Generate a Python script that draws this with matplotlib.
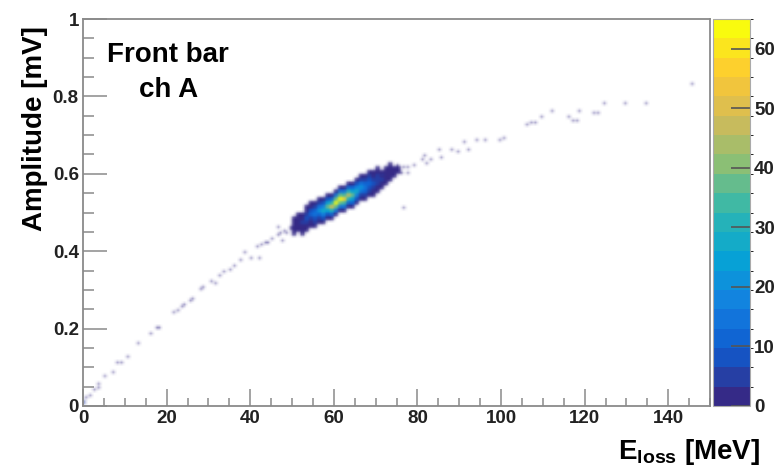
import numpy as np
import matplotlib
matplotlib.use('Agg')
import matplotlib.pyplot as plt
from matplotlib.colors import LinearSegmentedColormap, BoundaryNorm
from matplotlib.cm import ScalarMappable
from matplotlib.ticker import MultipleLocator

# single-count events along the curve (E_loss [MeV], amplitude [mV])
tail_e = [1.7, 2.9, 3.6, 3.6, 5.3, 7.2, 8.4, 9.3, 10.5, 13.2, 16.0, 17.7, 18.4,
          21.5, 22.5, 23.7, 24.4, 25.6, 26.3, 28.0, 28.7, 30.9, 31.6, 32.8, 33.5,
          35.2, 36.4, 37.6, 38.8, 40.4, 42.3, 41.6, 42.8, 43.5, 44.0, 45.2, 46.7,
          46.7, 47.2, 47.6, 48.3, 48.8, 49.5, 49.8, 50.7, 51.4,
          71.5, 74.0, 75.4, 76.3, 76.6, 77.5, 77.5, 79.0, 76.6,
          81.3, 81.8, 82.3, 83.0, 85.2, 85.9, 88.3, 89.5, 91.1, 92.1, 94.3, 96.2,
          99.5, 100.7, 106.2, 107.4, 108.4, 109.8, 112.2, 116.0, 117.0, 118.2,
          118.7, 122.2, 123.4, 124.6, 129.7, 134.7, 145.7]
tail_amp = [0.028, 0.041, 0.049, 0.059, 0.075, 0.088, 0.111, 0.114, 0.127, 0.163, 0.189, 0.200, 0.204,
            0.243, 0.248, 0.256, 0.261, 0.274, 0.279, 0.300, 0.307, 0.320, 0.318, 0.338, 0.346,
            0.351, 0.364, 0.377, 0.398, 0.382, 0.380, 0.411, 0.416, 0.420, 0.424, 0.434, 0.442,
            0.463, 0.445, 0.429, 0.450, 0.448, 0.455, 0.460, 0.463, 0.481,
            0.597, 0.610, 0.623, 0.602, 0.615, 0.602, 0.615, 0.623, 0.514,
            0.636, 0.649, 0.628, 0.638, 0.664, 0.643, 0.661, 0.656, 0.680, 0.664, 0.687, 0.690,
            0.690, 0.695, 0.726, 0.731, 0.734, 0.747, 0.760, 0.749, 0.736, 0.736,
            0.762, 0.757, 0.757, 0.780, 0.783, 0.783, 0.832]

# a few heavier bins at the origin
origin_e = [0.3, 0.3, 0.8]
origin_amp = [0.012, 0.007, 0.022]
origin_n = [6, 4, 2]

# the main blob: one column per 1 MeV, 7 rows of 0.01 mV starting at core_bin0
core_e = list(range(50, 76))
core_bin0 = [43, 44, 44, 45, 46, 46, 47, 47, 48, 48, 49, 50, 50,
             51, 51, 52, 53, 53, 54, 54, 55, 55, 56, 57, 57, 58]
core_counts = [
    [0, 1, 1, 2, 1, 1, 0],
    [0, 1, 2, 3, 2, 1, 0],
    [1, 1, 3, 5, 3, 1, 0],
    [1, 2, 4, 7, 5, 2, 1],
    [1, 3, 6, 10, 7, 3, 1],
    [1, 4, 9, 14, 10, 4, 1],
    [2, 5, 12, 20, 13, 5, 2],
    [2, 7, 17, 28, 18, 7, 2],
    [2, 9, 24, 38, 25, 9, 2],
    [3, 12, 30, 50, 32, 12, 3],
    [3, 13, 36, 62, 38, 13, 3],
    [3, 14, 38, 65, 38, 14, 3],
    [3, 13, 35, 58, 35, 13, 3],
    [3, 12, 30, 48, 30, 12, 3],
    [2, 10, 24, 38, 24, 10, 2],
    [2, 8, 18, 28, 18, 8, 2],
    [2, 6, 13, 20, 13, 6, 2],
    [1, 5, 10, 14, 10, 5, 1],
    [1, 4, 7, 10, 7, 4, 1],
    [1, 3, 5, 8, 5, 3, 1],
    [1, 2, 4, 6, 4, 2, 1],
    [0, 2, 3, 4, 3, 2, 0],
    [0, 1, 2, 3, 2, 1, 0],
    [0, 1, 1, 2, 1, 1, 0],
    [0, 0, 1, 1, 1, 0, 0],
    [0, 0, 1, 1, 0, 0, 0],
]

# ROOT kBird palette
stops = [0.0, 0.125, 0.25, 0.375, 0.5, 0.625, 0.75, 0.875, 1.0]
red = [0.2082, 0.0592, 0.0780, 0.0232, 0.1802, 0.5301, 0.8186, 0.9956, 0.9764]
green = [0.1664, 0.3599, 0.5041, 0.6419, 0.7178, 0.7492, 0.7328, 0.7862, 0.9832]
blue = [0.5293, 0.8111, 0.8805, 0.8363, 0.6891, 0.4662, 0.3473, 0.1968, 0.0539]
bird = LinearSegmentedColormap.from_list(
    'bird', list(zip(stops, zip(red, green, blue))), N=256)
norm = BoundaryNorm(np.linspace(0, 65, 21), bird.N)

# fine binning: 0.5 MeV x 0.005 mV
x_edges = np.linspace(0, 150, 301)
y_edges = np.linspace(0, 1, 201)
H = np.histogram2d(tail_e, tail_amp, bins=[x_edges, y_edges])[0]
H += np.histogram2d(origin_e, origin_amp, bins=[x_edges, y_edges], weights=origin_n)[0]
for i, e in enumerate(core_e):
    for j, c in enumerate(core_counts[i]):
        k = 2 * (core_bin0[i] + j)
        H[2 * e:2 * e + 2, k:k + 2] += c

img = bird(norm(H.T))[:, :, :3]
img[H.T == 0] = 1.0

# soften like the scanned original (small separable kernel, white padding)
kern = np.array([1.0, 3.0, 1.0]) / 5.0
pad = np.pad(img, ((1, 1), (1, 1), (0, 0)), constant_values=1.0)
tmp = kern[0] * pad[:-2] + kern[1] * pad[1:-1] + kern[2] * pad[2:]
img = kern[0] * tmp[:, :-2] + kern[1] * tmp[:, 1:-1] + kern[2] * tmp[:, 2:]

plt.rcParams['font.family'] = ['Liberation Sans', 'DejaVu Sans']
plt.rcParams['mathtext.fontset'] = 'custom'
plt.rcParams['mathtext.bf'] = 'Liberation Sans:bold'
plt.rcParams['mathtext.rm'] = 'Liberation Sans:bold'

fig = plt.figure(figsize=(7.82, 4.76), dpi=100)
ax = fig.add_axes([83 / 782, 70 / 476, 627 / 782, 387 / 476])
ax.imshow(img, origin='lower', extent=[0, 150, 0, 1], aspect='auto',
          interpolation='bilinear')
ax.set_xlim(0, 150)
ax.set_ylim(0, 1)

ax.xaxis.set_major_locator(MultipleLocator(20))
ax.xaxis.set_minor_locator(MultipleLocator(5))
ax.yaxis.set_minor_locator(MultipleLocator(0.05))
ax.set_yticks([0, 0.2, 0.4, 0.6, 0.8, 1.0])
ax.set_yticklabels(['0', '0.2', '0.4', '0.6', '0.8', '1'])

grey = '#8a8a8a'
for s in ax.spines.values():
    s.set_color(grey)
    s.set_linewidth(1.3)
ax.tick_params(axis='x', which='major', direction='in', length=12, width=1.1,
               color=grey, pad=3, labelsize=13.5, labelcolor='#222222')
ax.tick_params(axis='x', which='minor', direction='in', length=6, width=1.1, color=grey)
ax.tick_params(axis='y', which='major', direction='in', length=17, width=1.1,
               color=grey, pad=3, labelsize=13.5, labelcolor='#222222')
ax.tick_params(axis='y', which='minor', direction='in', length=8, width=1.1, color=grey)
for lab in ax.get_xticklabels() + ax.get_yticklabels():
    lab.set_fontweight('bold')

ax.text(0.136, 0.863, 'Front bar\nch A', transform=ax.transAxes, ha='center',
        va='center', fontsize=20, fontweight='bold', linespacing=1.45)

fig.text(35 / 782, 1 - 26 / 476, 'Amplitude [mV]', rotation=90, ha='center',
         va='top', fontsize=20, fontweight='bold')
fig.text(760 / 782, 1 - 467 / 476, r'$\mathbf{E}_{\mathbf{loss}}$ [MeV]', ha='right',
         va='bottom', fontsize=20, fontweight='bold')

cax = fig.add_axes([713 / 782, 70 / 476, 37 / 782, 387 / 476])
cb = fig.colorbar(ScalarMappable(norm=norm, cmap=bird), cax=cax,
                  ticks=[0, 10, 20, 30, 40, 50, 60])
cb.outline.set_edgecolor('#aaaaaa')
cax.tick_params(direction='in', length=14, width=1.2, color='#555555', pad=3,
                labelsize=13.5, labelcolor='#222222')
for lab in cax.get_yticklabels():
    lab.set_fontweight('bold')

fig.savefig('out.png', dpi=100)
